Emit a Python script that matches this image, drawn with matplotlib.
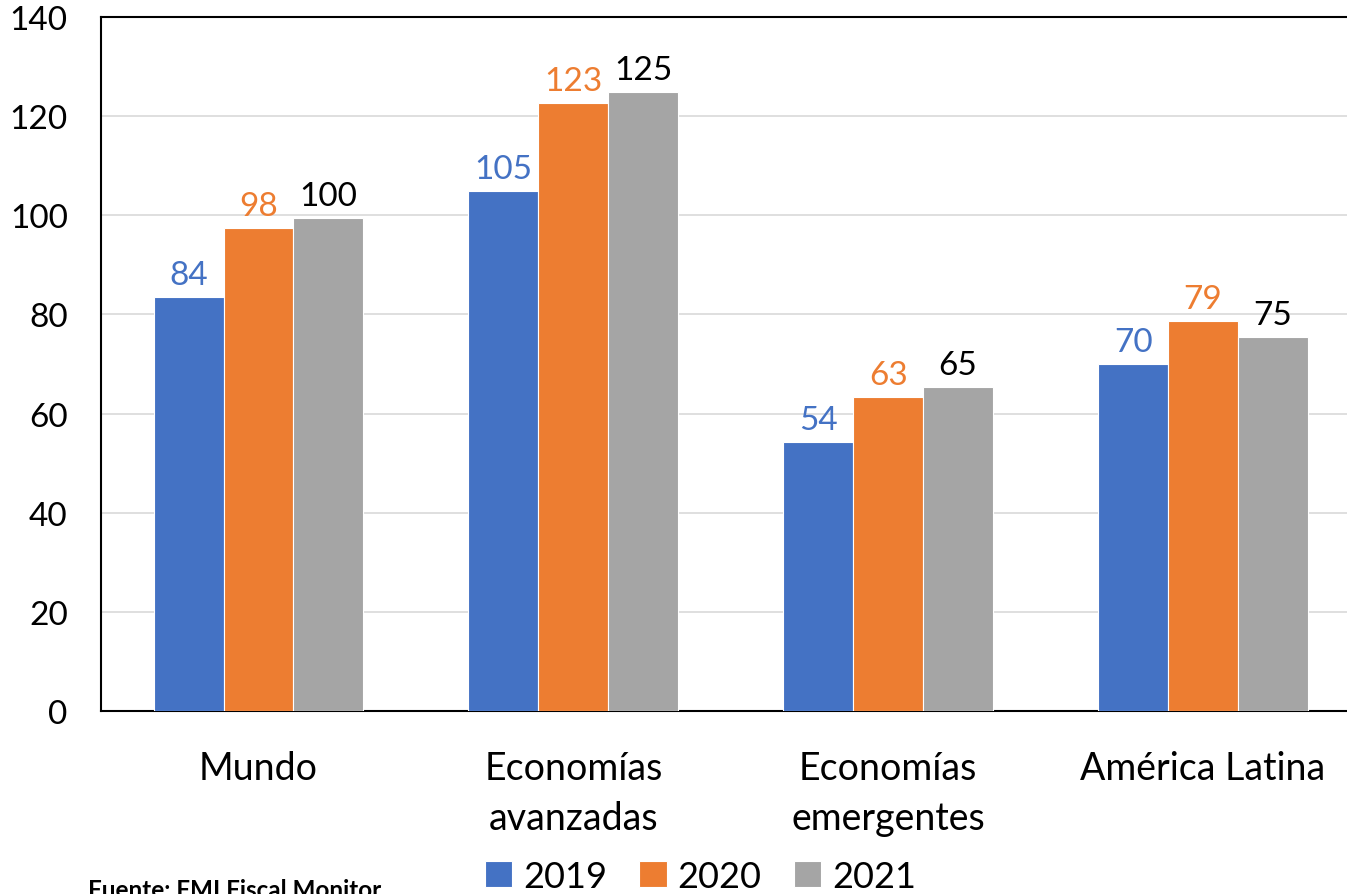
import matplotlib
matplotlib.use('Agg')
import matplotlib.pyplot as plt
import numpy as np

plt.rcParams['font.family'] = ['Lato', 'DejaVu Sans']

categories = ['Mundo', 'Economías\navanzadas', 'Economías\nemergentes', 'América Latina']
years = ['2019', '2020', '2021']
values_2019 = [83.5, 104.8, 54.3, 70.0]
values_2020 = [97.5, 122.7, 63.3, 78.7]
values_2021 = [99.5, 124.9, 65.4, 75.4]
labels_2019 = ['84', '105', '54', '70']
labels_2020 = ['98', '123', '63', '79']
labels_2021 = ['100', '125', '65', '75']

series = [values_2019, values_2020, values_2021]
series_labels = [labels_2019, labels_2020, labels_2021]
colors = ['#4472C4', '#ED7D31', '#A5A5A5']
label_colors = ['#4472C4', '#ED7D31', '#000000']

fig = plt.figure(figsize=(13.47, 8.95), dpi=100)
ax = fig.add_axes([0.075, 0.2045, 0.935, 0.7755])

x = np.arange(len(categories))
width = 0.222
offsets = [-width, 0, width]

for vals, labs, col, lcol, off, yr in zip(series, series_labels, colors, label_colors, offsets, years):
    bars = ax.bar(x + off, vals, width, color=col, edgecolor='white', linewidth=0.8, label=yr, zorder=3)
    for b, lab in zip(bars, labs):
        ax.annotate(lab, (b.get_x() + b.get_width() / 2, b.get_height()),
                    xytext=(0, 5), textcoords='offset points',
                    ha='center', va='bottom', fontsize=24, color=lcol)

ax.set_xlim(-0.5, 3.5)
ax.set_ylim(0, 140)
ax.set_yticks(np.arange(0, 141, 20))
ax.yaxis.grid(True, color='#D9D9D9', linewidth=1.2, zorder=0)
ax.set_axisbelow(True)
ax.set_xticks(x)
ax.set_xticklabels(categories, fontsize=27, linespacing=1.5, va='top')
ax.tick_params(axis='x', length=0, pad=28)
ax.tick_params(axis='y', length=0, pad=24, labelsize=24)
ax.spines['right'].set_visible(False)
for s in ['top', 'left', 'bottom']:
    ax.spines[s].set_color('black')
    ax.spines[s].set_linewidth(1.5)

fig.legend(loc='center', bbox_to_anchor=(0.52, 0.02), ncol=3, frameon=False,
           fontsize=26, handlelength=0.75, handleheight=0.75, handletextpad=0.3,
           columnspacing=0.9)

fig.text(0.065, -0.008, 'Fuente: FMI Fiscal Monitor', fontsize=17.5, fontweight='bold',
         ha='left', va='bottom')

fig.savefig('out.png', dpi=100)
